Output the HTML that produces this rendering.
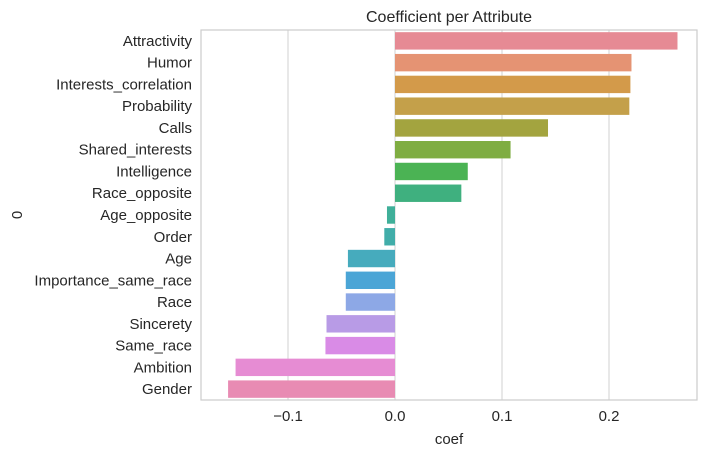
<!DOCTYPE html>
<html><head><meta charset="utf-8"><style>
body{margin:0;background:#fff;}
svg text{font-family:"Liberation Sans","DejaVu Sans",sans-serif;fill:#262626;}
</style></head><body>
<svg id="chart" width="710" height="457"></svg>
<script>
const categories=["Attractivity","Humor","Interests_correlation","Probability","Calls","Shared_interests","Intelligence","Race_opposite","Age_opposite","Order","Age","Importance_same_race","Race","Sincerety","Same_race","Ambition","Gender"];
const coefValues=[0.264,0.221,0.220,0.219,0.143,0.108,0.068,0.062,-0.0075,-0.010,-0.044,-0.046,-0.046,-0.064,-0.065,-0.149,-0.156];
const barColors=["#e68a94","#e59373","#d39a4a","#c4a04a","#a3a43f","#7fad42","#4bb354","#3fb07f","#3faf99","#41ada9","#46abbd","#4ba5d6","#8da8e6","#b89be6","#d98be6","#e68cd3","#e88bb3"];
const xTicks=[-0.1,0.0,0.1,0.2];
const xTickLabels=["\u22120.1","0.0","0.1","0.2"];
const NS="http://www.w3.org/2000/svg";
const svg=document.getElementById('chart');
const L=201,R=697,T=30,B=400;
const x=v=>395+v*1070;
const band=(B-T)/categories.length;
const y=i=>T+i*band;
function mk(t,a){const e=document.createElementNS(NS,t);for(const k in a)e.setAttribute(k,a[k]);svg.appendChild(e);return e;}
xTicks.forEach((t,i)=>{
 const g=mk('line',{x1:x(t),x2:x(t),y1:T,y2:B,stroke:'#d9d9d9','stroke-width':1.2});
 
 
 const tx=mk('text',{x:x(t),y:B+21,'text-anchor':'middle','font-size':15});
 tx.textContent=xTickLabels[i];
 
 
});
categories.forEach((c,i)=>{
 const v=coefValues[i];
 const r=mk('rect',{x:Math.min(x(0),x(v)),y:y(i)+band*0.1,width:Math.abs(x(v)-x(0)),height:band*0.8,fill:barColors[i]});
 
 
 const t=mk('text',{x:L-9,y:y(i)+band/2+5,'text-anchor':'end','font-size':15});
 t.textContent=c;
 
 
});
const fr=mk('rect',{x:L,y:T,width:R-L,height:B-T,fill:'none',stroke:'#cccccc','stroke-width':1.2});


const ti=mk('text',{x:(L+R)/2,y:T-8,'text-anchor':'middle','font-size':16});
ti.textContent='Coefficient per Attribute';


const xl=mk('text',{x:(L+R)/2,y:444,'text-anchor':'middle','font-size':15});
xl.textContent='coef';


const yl=mk('text',{x:0,y:0,'text-anchor':'middle','font-size':15,transform:'translate(22,215) rotate(-90)'});
yl.textContent='0';


</script>
</body></html>
